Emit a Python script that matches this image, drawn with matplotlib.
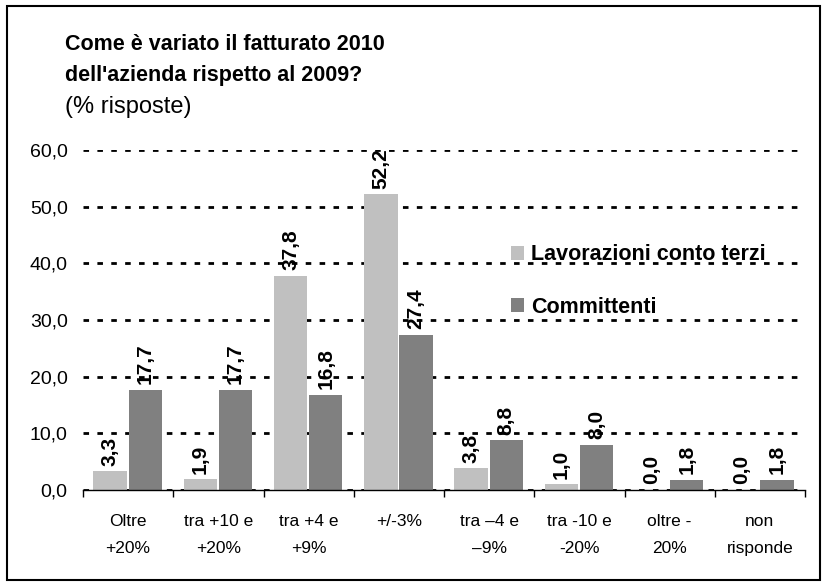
import matplotlib.pyplot as plt
from matplotlib.patches import Rectangle
from matplotlib import font_manager
import numpy as np

# data
categories = ["Oltre\n+20%", "tra +10 e\n+20%", "tra +4 e\n+9%", "+/-3%",
              "tra \u20134 e\n\u20139%", "tra -10 e\n-20%", "oltre -\n20%", "non\nrisponde"]
conto_terzi = [3.3, 1.9, 37.8, 52.2, 3.8, 1.0, 0.0, 0.0]
committenti = [17.7, 17.7, 16.8, 27.4, 8.8, 8.0, 1.8, 1.8]
series_names = ["Lavorazioni conto terzi", "Committenti"]

plt.rcParams['font.family'] = ['Liberation Sans', 'DejaVu Sans']
names = {f.name for f in font_manager.fontManager.ttflist}
narrow = 'Liberation Sans Narrow' if 'Liberation Sans Narrow' in names else 'Liberation Sans'
cat_size = 14 if narrow == 'Liberation Sans Narrow' else 12.5

fig = plt.figure(figsize=(8.24, 5.88), dpi=100)
W, H = 824, 588
ax = fig.add_axes([83 / W, 1 - 490 / H, (805 - 83) / W, (490 - 150) / H])

x = np.arange(len(categories))
w = 0.37
b1 = ax.bar(x - 0.2, conto_terzi, w, color='#c0c0c0', label=series_names[0], zorder=2)
b2 = ax.bar(x + 0.19, committenti, w, color='#808080', label=series_names[1], zorder=2)

for bars, vals in ((b1, conto_terzi), (b2, committenti)):
    for r, v in zip(bars, vals):
        ax.annotate(f"{v:.1f}".replace('.', ','), (r.get_x() + r.get_width() / 2, v),
                    xytext=(0, 4), textcoords='offset points', rotation=90,
                    ha='center', va='bottom', fontsize=15, fontweight='bold',
                    annotation_clip=False, zorder=4)

ax.set_xlim(-0.5, len(categories) - 0.5)
ax.set_ylim(0, 60)
ax.set_yticks(range(0, 61, 10))
ax.set_yticklabels([f"{v},0" for v in range(0, 61, 10)], fontsize=14)
ax.yaxis.grid(True, color='black', linestyle=(0, (2, 3)), linewidth=2, zorder=1)
ax.set_axisbelow(True)
ax.tick_params(axis='y', length=0, pad=11)

ax.set_xticks(x)
ax.set_xticklabels(categories, fontsize=cat_size, family=narrow, linespacing=2.05, va='top')
ax.set_xticks(np.arange(-0.5, len(categories)), minor=True)
ax.tick_params(axis='x', which='major', length=0, pad=17)
ax.tick_params(axis='x', which='minor', length=5, width=1)

for s in ('left', 'right', 'top'):
    ax.spines[s].set_visible(False)
ax.spines['bottom'].set_linewidth(1)

# white box behind the legend hides the gridlines there
fig.patches.append(Rectangle((497 / W, 1 - 332 / H), (788 - 497) / W, (332 - 236) / H,
                             transform=fig.transFigure, facecolor='white',
                             edgecolor='none', zorder=0.5))
ax.set_zorder(1)
ax.patch.set_visible(False)

leg = ax.legend(loc='center left', bbox_to_anchor=(511 / W, 1 - 281 / H),
                bbox_transform=fig.transFigure, frameon=False,
                prop={'size': 15.5, 'weight': 'bold'}, handlelength=0.6,
                handleheight=0.6, handletextpad=0.35, labelspacing=1.45,
                borderpad=0, borderaxespad=0)
leg.set_zorder(3)

fig.text(65 / W, 1 - 34 / H, "Come è variato il fatturato 2010\ndell'azienda rispetto al 2009?",
         fontsize=15.5, fontweight='bold', va='top', linespacing=1.65)
fig.text(65 / W, 1 - 96 / H, "(% risposte)", fontsize=17, va='top')

fig.patches.append(Rectangle((7 / W, 1 - 580 / H), (820 - 7) / W, (580 - 6) / H,
                             transform=fig.transFigure, fill=False,
                             edgecolor='black', linewidth=1.5))

fig.savefig('out.png', dpi=100)
